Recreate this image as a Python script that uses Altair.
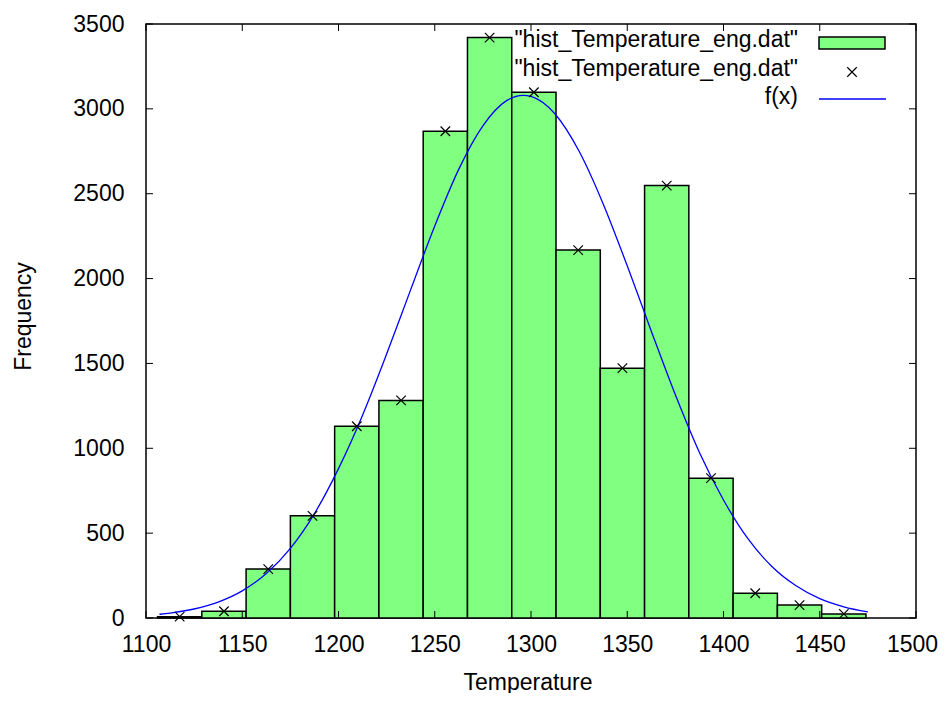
import altair as alt
import pandas as pd

# ---- data ----
bin_centers = [1117.5, 1140.5, 1163.5, 1186.5, 1209.5, 1232.5, 1255.5, 1278.5,
               1301.5, 1324.5, 1347.5, 1370.5, 1393.5, 1416.5, 1439.5, 1462.5]
bin_width = 23
counts = [8, 40, 288, 602, 1130, 1282, 2868, 3420,
          3098, 2168, 1472, 2548, 824, 146, 76, 24]

fit_x = [1107, 1112.5, 1125, 1137.5, 1150, 1162.5, 1175, 1187.5, 1200, 1212.5,
         1225, 1237.5, 1250, 1262.5, 1275, 1287.5, 1296, 1300, 1312.5, 1325,
         1337.5, 1350, 1362.5, 1375, 1387.5, 1400, 1412.5, 1425, 1437.5, 1450,
         1462.5, 1475]
fit_y = [22, 29, 53, 94, 160, 262, 410, 615, 880, 1195,
         1555, 1935, 2310, 2645, 2900, 3050, 3080, 3073, 2970, 2750,
         2440, 2075, 1690, 1315, 975, 695, 470, 305, 191, 114,
         66, 36]

x_ticks = [1100, 1150, 1200, 1250, 1300, 1350, 1400, 1450, 1500]
y_ticks = [0, 500, 1000, 1500, 2000, 2500, 3000, 3500]
legend_labels = ['"hist_Temperature_eng.dat"', '"hist_Temperature_eng.dat"', 'f(x)']

FONT = "Liberation Sans"
FS = 23
W, H = 770, 594

bins = pd.DataFrame({
    "center": bin_centers,
    "count": counts,
})
bins["x0"] = bins["center"] - bin_width / 2
bins["x1"] = bins["center"] + bin_width / 2
bins["base"] = 0
fit = pd.DataFrame({"fx": fit_x, "fy": fit_y})
xt = pd.DataFrame({"t": x_ticks})
yt = pd.DataFrame({"t": y_ticks})
one = pd.DataFrame({"a": [0]})

xs = alt.Scale(domain=[1100, 1500], nice=False, zero=False)
ys = alt.Scale(domain=[0, 3500], nice=False, zero=False)

xaxis = alt.Axis(values=x_ticks, ticks=False, tickSize=0, domain=False, grid=False,
                 labelFont=FONT, labelFontSize=FS, labelColor="black",
                 labelPadding=33, labelBaseline="alphabetic", labelFlush=False,
                 labelOverlap=False, format="d",
                 labelOffset={"condition": {"test": "datum.value >= 1500", "value": -4},
                              "value": 0},
                 titleFont=FONT, titleFontSize=FS, titleFontWeight="normal",
                 titleColor="black", titleX=381.5, titleY=71,
                 titleBaseline="alphabetic", titleAlign="center")
yaxis = alt.Axis(values=y_ticks, ticks=False, tickSize=0, domain=False, grid=False,
                 labelFont=FONT, labelFontSize=FS, labelColor="black",
                 labelPadding=22, labelBaseline="middle", labelFlush=False,
                 labelOverlap=False, format="d",
                 titleFont=FONT, titleFontSize=FS, titleFontWeight="normal",
                 titleColor="black", titleAngle=-90, titleX=-123, titleY=292,
                 titleBaseline="middle", titleAlign="center")


def X(field):
    return alt.X(field, type="quantitative", scale=xs, axis=xaxis, title="Temperature")


def Y(field):
    return alt.Y(field, type="quantitative", scale=ys, axis=yaxis, title="Frequency")


bars = alt.Chart(bins).mark_rect(fill="#80ff80", stroke="black", strokeWidth=1.5).encode(
    x=X("x0"), x2="x1", y=Y("count"), y2="base")

cross = "M-1,-1L1,1M-1,1L1,-1"
points = alt.Chart(bins).mark_point(shape=cross, filled=False, stroke="black",
                                    size=90, strokeWidth=1.2, opacity=1).encode(
    x=X("center"), y=Y("count"))

line = alt.Chart(fit).mark_line(color="#0000ff", strokeWidth=1.3,
                                interpolate="monotone").encode(
    x=X("fx"), y=Y("fy"))

# inward ticks on all four sides (gnuplot style)
tick_len = 7
t_bottom = alt.Chart(xt).mark_rule(color="black", strokeWidth=1).encode(
    x=X("t"), y=alt.value(H - tick_len), y2=alt.value(H))
t_top = alt.Chart(xt).mark_rule(color="black", strokeWidth=1).encode(
    x=X("t"), y=alt.value(0), y2=alt.value(tick_len))
t_left = alt.Chart(yt).mark_rule(color="black", strokeWidth=1).encode(
    y=Y("t"), x=alt.value(0), x2=alt.value(tick_len))
t_right = alt.Chart(yt).mark_rule(color="black", strokeWidth=1).encode(
    y=Y("t"), x=alt.value(W - tick_len), x2=alt.value(W))

# manual gnuplot-style legend (top right, text left of key)
leg_layers = []
row_y = [23, 51.5, 80]
for i, lab in enumerate(legend_labels):
    leg_layers.append(
        alt.Chart(pd.DataFrame({"label": [lab]})).mark_text(
            font=FONT, fontSize=FS, color="black", align="right", baseline="alphabetic"
        ).encode(text="label:N", x=alt.value(652), y=alt.value(row_y[i]))
    )
leg_box = alt.Chart(one).mark_rect(fill="#80ff80", stroke="black", strokeWidth=1.5).encode(
    x=alt.value(673), x2=alt.value(739), y=alt.value(13), y2=alt.value(25))
leg_pt = alt.Chart(one).mark_point(shape=cross, filled=False, stroke="black",
                                   size=90, strokeWidth=1.2, opacity=1).encode(
    x=alt.value(706), y=alt.value(48))
leg_line = alt.Chart(one).mark_rule(color="#0000ff", strokeWidth=1.3).encode(
    x=alt.value(673), x2=alt.value(740), y=alt.value(75))

chart = alt.layer(
    bars, line, points, t_bottom, t_top, t_left, t_right,
    *leg_layers, leg_box, leg_pt, leg_line
).properties(
    width=W, height=H,
    autosize=alt.AutoSizeParams(type="none"),
    padding={"left": 138, "top": 16, "right": 22, "bottom": 75},
    background="white",
).configure_view(stroke="black", strokeWidth=1.5)

chart.save("out.html", embed_options={"renderer": "svg", "actions": False})
